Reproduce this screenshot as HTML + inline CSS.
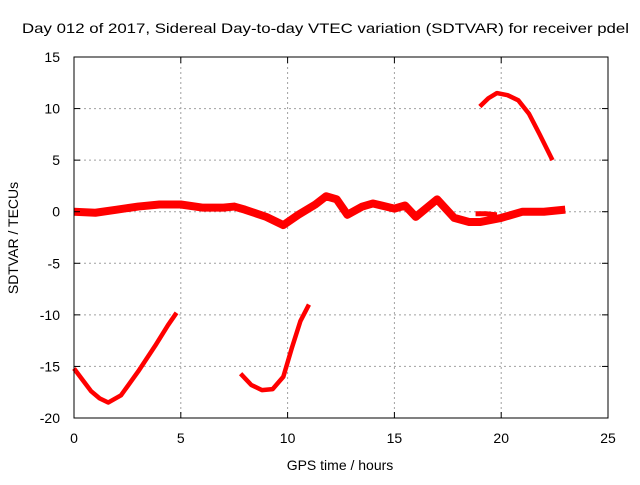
<!DOCTYPE html>
<html><head><meta charset="utf-8"><style>
body{margin:0;background:#fff}
svg text{font-family:"Liberation Sans",sans-serif;font-size:14px;fill:#000}
</style></head><body>
<svg id="c" width="640" height="480">
<text x="22" y="33" textLength="607" lengthAdjust="spacingAndGlyphs">Day 012 of 2017, Sidereal Day-to-day VTEC variation (SDTVAR) for receiver pdel</text>
<g id="grid"></g><g id="series"></g><g id="axes"></g>
<text x="340" y="470" text-anchor="middle">GPS time / hours</text>
<text transform="translate(18,238) rotate(-90)" text-anchor="middle">SDTVAR / TECUs</text>
</svg>
<script>
const xTicks=[0,5,10,15,20,25];
const yTicks=[15,10,5,0,-5,-10,-15,-20];
const segAx=[0,0.4,0.8,1.2,1.6,2.2,3,3.8,4.4,4.8];
const segAy=[-15.2,-16.3,-17.4,-18.1,-18.5,-17.8,-15.5,-13,-11,-9.8];
const segBx=[7.8,8.3,8.8,9.3,9.8,10.2,10.6,11];
const segBy=[-15.7,-16.8,-17.3,-17.2,-16,-13.2,-10.6,-9];
const segCx=[19,19.4,19.8,20.3,20.8,21.3,21.8,22.4];
const segCy=[10.2,11,11.5,11.3,10.8,9.5,7.5,5];
const mainX=[0,1,2,3,4,5,6,7,7.5,8,9,9.8,10.5,11.3,11.8,12.3,12.8,13.5,14,15,15.5,16,17,17.8,18.5,19,20,21,22,23];
const mainY=[0,-0.1,0.2,0.5,0.7,0.7,0.4,0.4,0.5,0.2,-0.5,-1.3,-0.3,0.7,1.5,1.2,-0.3,0.5,0.8,0.3,0.6,-0.5,1.2,-0.6,-1,-1,-0.6,0,0,0.2];
const branchX=[18.8,19.3,19.8];
const branchY=[-0.2,-0.2,-0.3];
const X=v=>74+(v-0)*(608-74)/25;
const Y=v=>418-(v+20)*(418-57)/35;
const NS='http://www.w3.org/2000/svg';
const g=document.getElementById('grid'),s=document.getElementById('series'),a=document.getElementById('axes');
function mk(p,t,at){const e=document.createElementNS(NS,t);for(const k in at)e.setAttribute(k,at[k]);p.appendChild(e);return e;}
xTicks.forEach(t=>{
 if(t>0&&t<25){const l=mk(g,'line',{x1:X(t),x2:X(t),y1:57,y2:418,stroke:'#a0a0a0','stroke-dasharray':'2,3'});
 
 }
 const tx=mk(a,'text',{x:X(t),y:443,'text-anchor':'middle'});tx.textContent=t;
 
 
 mk(a,'line',{x1:X(t),x2:X(t),y1:418,y2:412,stroke:'#000'});mk(a,'line',{x1:X(t),x2:X(t),y1:57,y2:63,stroke:'#000'});
});
yTicks.forEach(t=>{
 if(t>-20&&t<15){const l=mk(g,'line',{x1:74,x2:608,y1:Y(t),y2:Y(t),stroke:'#a0a0a0','stroke-dasharray':'2,3'});
 
 }
 const tx=mk(a,'text',{x:60,y:Y(t)+5,'text-anchor':'end'});tx.textContent=t;
 
 
 mk(a,'line',{x1:74,x2:80,y1:Y(t),y2:Y(t),stroke:'#000'});mk(a,'line',{x1:602,x2:608,y1:Y(t),y2:Y(t),stroke:'#000'});
});
const fr=mk(a,'rect',{x:74,y:57,width:534,height:361,fill:'none',stroke:'#000'});


function line(xs,ys,w,name){const p=mk(s,'polyline',{points:xs.map((x,i)=>X(x)+','+Y(ys[i])).join(' '),fill:'none',stroke:'#f00','stroke-width':w,'stroke-linejoin':'round'});
 
 }
line(mainX,mainY,8,'sdtvar-main-series');
line(branchX,branchY,5,'sdtvar-branch-series');
line(segAx,segAy,4.5,'sdtvar-segment-a');
line(segBx,segBy,4.5,'sdtvar-segment-b');
line(segCx,segCy,4.5,'sdtvar-segment-c');
</script>
</body></html>
